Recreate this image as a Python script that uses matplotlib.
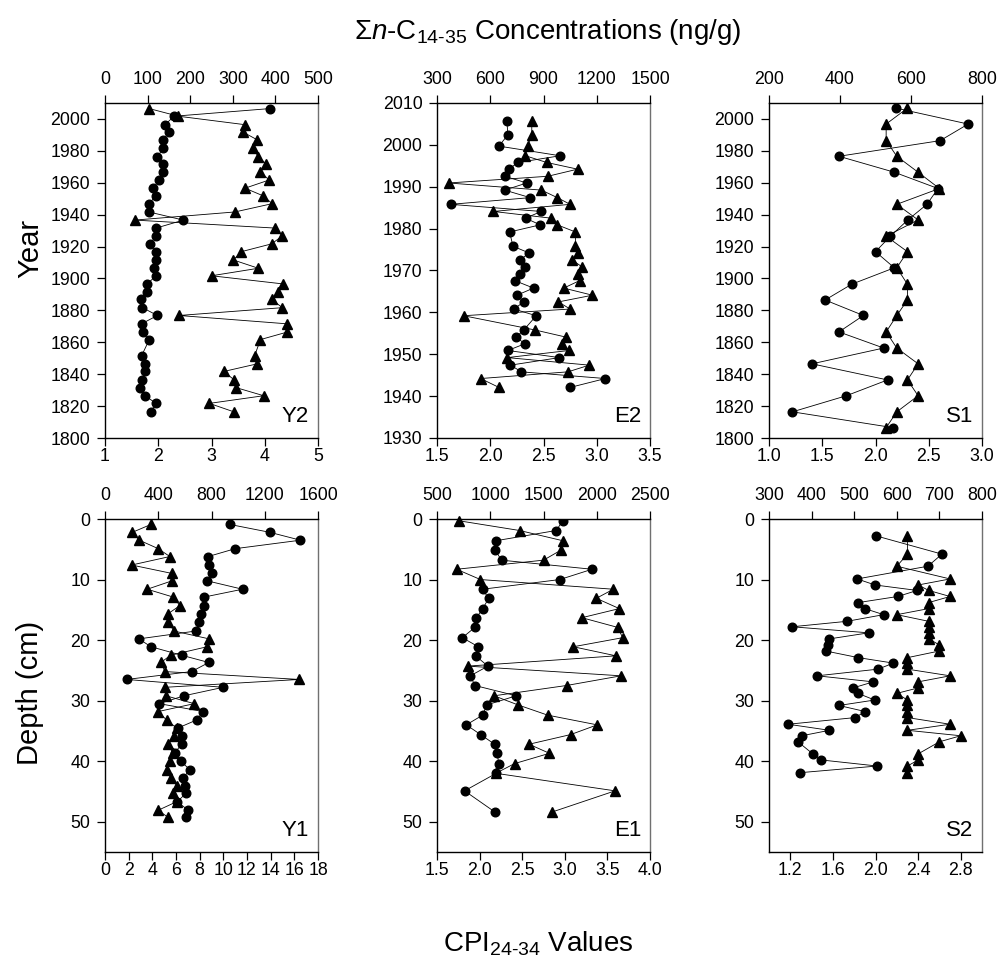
import matplotlib
matplotlib.use('Agg')
import matplotlib.pyplot as plt

plt.rcParams['font.family'] = ['Liberation Sans', 'DejaVu Sans']
plt.rcParams['mathtext.fontset'] = 'custom'
plt.rcParams['mathtext.rm'] = 'Liberation Sans'
plt.rcParams['mathtext.it'] = 'Liberation Sans:italic'
plt.rcParams['mathtext.bf'] = 'Liberation Sans:bold'

# ---------------- Data ----------------
# Y2 (year) : circles = concentration (top axis), triangles = CPI (bottom axis)
Y2_year = [2006.5, 2001.7, 1996.4, 1991.8, 1986.9, 1981.7, 1976.4, 1971.6, 1967.0, 1961.7,
           1956.6, 1951.8, 1946.9, 1941.7, 1936.6, 1931.6, 1926.7, 1921.7, 1916.8, 1911.6,
           1906.4, 1901.7, 1896.6, 1891.8, 1886.9, 1881.7, 1876.8, 1871.6, 1866.3, 1861.7,
           1851.6, 1846.5, 1841.7, 1836.6, 1831.6, 1826.5, 1821.7, 1816.4]
Y2_conc = [387, 162, 141, 150, 137, 137, 123, 135, 135, 127,
           113, 120, 103, 103, 184, 120, 120, 106, 120, 120,
           115, 120, 99, 98, 84, 88, 123, 86, 90, 104,
           86, 94, 94, 86, 82, 94, 120, 107]
Y2_cpi = [1.83, 2.38, 3.63, 3.59, 3.86, 3.77, 3.88, 4.03, 3.92, 4.08,
          3.63, 3.97, 4.14, 3.44, 1.56, 4.19, 4.33, 4.13, 3.56, 3.41,
          3.88, 3.00, 4.34, 4.25, 4.13, 4.33, 2.39, 4.41, 4.41, 3.92,
          3.81, 3.86, 3.23, 3.42, 3.46, 3.98, 2.96, 3.42]

E2_year = [2005.8, 2002.4, 1999.7, 1997.4, 1995.8, 1994.2, 1992.5, 1990.9, 1989.2, 1987.4,
           1985.8, 1984.1, 1982.5, 1980.9, 1979.2, 1975.8, 1974.2, 1972.5, 1970.9, 1969.2,
           1967.6, 1965.8, 1964.1, 1962.5, 1960.8, 1959.2, 1955.8, 1954.1, 1952.5, 1950.9,
           1949.2, 1947.4, 1945.8, 1944.2, 1942.1]
E2_conc = [694, 699, 649, 994, 756, 705, 681, 806, 681, 825,
           377, 887, 799, 881, 709, 728, 818, 769, 793, 769,
           737, 844, 750, 789, 733, 859, 789, 746, 795, 699,
           990, 714, 776, 1249, 1052]
E2_cpi = [2.39, 2.39, 2.35, 2.33, 2.53, 2.82, 2.54, 1.61, 2.48, 2.63,
          2.75, 2.03, 2.57, 2.63, 2.80, 2.80, 2.82, 2.77, 2.86, 2.82,
          2.84, 2.69, 2.96, 2.64, 2.75, 1.75, 2.42, 2.71, 2.67, 2.74,
          2.16, 2.93, 2.73, 1.91, 2.08]

S1_year = [2006.8, 1996.8, 1986.4, 1976.6, 1966.6, 1956.4, 1946.5, 1936.7, 1926.5, 1916.8,
           1906.7, 1896.4, 1886.5, 1876.8, 1866.5, 1856.4, 1846.5, 1836.4, 1826.5, 1816.4,
           1806.5]
S1_conc = [558, 761, 682, 397, 553, 676, 645, 591, 542, 500,
           553, 433, 358, 466, 397, 523, 321, 534, 418, 266,
           549]
S1_cpi = [2.3, 2.1, 2.1, 2.2, 2.4, 2.6, 2.2, 2.4, 2.1, 2.3,
          2.2, 2.3, 2.3, 2.2, 2.1, 2.2, 2.4, 2.3, 2.4, 2.2,
          2.1]

Y1_depth = [0.9, 2.2, 3.5, 4.9, 6.2, 7.6, 9.0, 10.2, 11.6, 12.9,
            14.3, 15.7, 17.0, 18.5, 19.8, 21.1, 22.5, 23.7, 25.2, 26.5,
            27.8, 29.2, 30.5, 31.8, 33.2, 34.5, 35.9, 37.2, 38.6, 40.0,
            41.4, 42.7, 44.1, 45.3, 46.7, 48.1, 49.3]
Y1_conc = [938, 1238, 1468, 978, 775, 780, 805, 765, 1033, 743,
           740, 718, 705, 683, 255, 345, 575, 780, 650, 163,
           888, 593, 408, 738, 688, 550, 575, 575, 525, 568,
           638, 588, 600, 608, 543, 625, 608]
Y1_cpi = [3.88, 2.31, 2.90, 4.50, 5.48, 2.25, 5.68, 5.68, 3.57, 5.77,
          6.33, 5.29, 5.34, 5.82, 8.80, 8.63, 5.54, 4.73, 5.06, 16.40,
          5.06, 5.15, 7.54, 4.50, 5.20, 6.05, 5.82, 5.34, 5.71, 5.48,
          5.20, 5.54, 6.10, 5.77, 6.05, 4.50, 5.34]

E1_depth = [0.3, 1.9, 3.6, 5.1, 6.8, 8.3, 10.0, 11.6, 13.1, 14.8,
            16.3, 17.9, 19.6, 21.1, 22.6, 24.3, 25.9, 27.5, 29.2, 30.7,
            32.4, 34.0, 35.6, 37.2, 38.7, 40.4, 42.0, 44.9, 48.4]
E1_conc = [1681, 1619, 1050, 1044, 1106, 1956, 1653, 928, 984, 931,
           869, 856, 738, 888, 863, 978, 813, 856, 1244, 969,
           928, 775, 909, 1041, 1063, 1081, 1056, 759, 1044]
E1_cpi = [1.76, 2.47, 2.98, 2.96, 2.75, 1.73, 2.01, 3.57, 3.37, 3.64,
          3.20, 3.62, 3.68, 3.10, 3.60, 1.86, 3.66, 3.02, 2.17, 2.45,
          2.80, 3.38, 3.07, 2.58, 2.82, 2.41, 2.19, 3.59, 2.85]

S2_depth = [2.8, 5.8, 7.8, 9.9, 10.9, 11.8, 12.8, 13.8, 14.8, 15.8,
            16.9, 17.8, 18.8, 19.8, 20.8, 21.8, 22.9, 23.8, 24.8, 25.9,
            26.9, 27.9, 28.8, 29.9, 30.8, 31.8, 32.8, 33.9, 34.9, 35.8,
            36.8, 38.8, 39.8, 40.8, 41.9]
S2_conc = [552, 706, 673, 507, 549, 648, 602, 510, 525, 569,
           483, 354, 534, 442, 438, 433, 510, 592, 556, 413,
           545, 497, 509, 548, 464, 526, 502, 345, 442, 377,
           368, 403, 423, 554, 373]
S2_cpi = [2.3, 2.3, 2.2, 2.7, 2.4, 2.5, 2.7, 2.5, 2.5, 2.2,
          2.5, 2.5, 2.5, 2.5, 2.6, 2.6, 2.3, 2.3, 2.3, 2.7,
          2.4, 2.4, 2.2, 2.3, 2.3, 2.3, 2.3, 2.7, 2.3, 2.8,
          2.6, 2.4, 2.4, 2.3, 2.3]

# axis settings
Y2_conc_ticks = [0, 100, 200, 300, 400, 500]
Y2_cpi_ticks = [1, 2, 3, 4, 5]
E2_conc_ticks = [300, 600, 900, 1200, 1500]
E2_cpi_ticks = [1.5, 2.0, 2.5, 3.0, 3.5]
S1_conc_ticks = [200, 400, 600, 800]
S1_cpi_ticks = [1.0, 1.5, 2.0, 2.5, 3.0]
Y1_conc_ticks = [0, 400, 800, 1200, 1600]
Y1_cpi_ticks = [0, 2, 4, 6, 8, 10, 12, 14, 16, 18]
E1_conc_ticks = [500, 1000, 1500, 2000, 2500]
E1_cpi_ticks = [1.5, 2.0, 2.5, 3.0, 3.5, 4.0]
S2_conc_ticks = [300, 400, 500, 600, 700, 800]
S2_cpi_ticks = [1.2, 1.6, 2.0, 2.4, 2.8]

year_ticks_long = [1800, 1820, 1840, 1860, 1880, 1900, 1920, 1940, 1960, 1980, 2000]
year_ticks_E2 = [1930, 1940, 1950, 1960, 1970, 1980, 1990, 2000, 2010]
depth_ticks = [0, 10, 20, 30, 40, 50]

W, H = 1000, 960
fig = plt.figure(figsize=(W / 100, H / 100), dpi=100)

TICK_FS = 12.8


def fmt_tick(v, decimals):
    return f"{v:.{decimals}f}"


def panel(left_px, top_px, bot_px, yvals, conc, cpi, conc_lim, conc_ticks,
          cpi_lim, cpi_ticks, cpi_dec, ylim, yticks, label):
    rect = [left_px / W, 1 - bot_px / H, 213 / W, (bot_px - top_px) / H]
    ax = fig.add_axes(rect)
    ax.set_ylim(*ylim)
    ax.set_yticks(yticks)
    ax.set_xlim(*cpi_lim)
    ax.set_xticks(cpi_ticks)
    ax.set_xticklabels([fmt_tick(v, cpi_dec) for v in cpi_ticks])
    ax.plot(cpi, yvals, '-', color='black', lw=0.6, zorder=2)
    ax.plot(cpi, yvals, '^', color='black', ms=7, mec='black', zorder=3,
            clip_on=False)
    ax.tick_params(axis='x', direction='out', length=5.5, width=0.9,
                   labelsize=TICK_FS, pad=1.5, top=False, bottom=True)
    ax.tick_params(axis='y', direction='out', length=5.5, width=0.9,
                   labelsize=TICK_FS, pad=5, left=True, right=False)
    for s in ['left', 'bottom']:
        ax.spines[s].set_linewidth(1.0)
        ax.spines[s].set_color('black')
    ax.spines['right'].set_color('#707070')
    ax.spines['right'].set_linewidth(1.0)
    ax.spines['top'].set_visible(False)

    ax2 = ax.twiny()
    ax2.set_xlim(*conc_lim)
    ax2.set_xticks(conc_ticks)
    ax2.plot(conc, yvals, '-', color='black', lw=0.6, zorder=2)
    ax2.plot(conc, yvals, 'o', color='black', ms=6.2, mec='black', zorder=3)
    ax2.tick_params(axis='x', direction='out', length=5.5, width=0.9,
                    labelsize=TICK_FS, pad=5, top=True, bottom=False)
    for s in ['left', 'right', 'bottom']:
        ax2.spines[s].set_visible(False)
    ax2.spines['top'].set_linewidth(1.0)
    ax2.spines['top'].set_color('black')
    ax2.text(1 - 9 / 213, 16 / (bot_px - top_px), label, transform=ax2.transAxes,
             ha='right', va='baseline', fontsize=16)
    return ax, ax2


lefts = [105, 437, 769]
TOP1, BOT1 = 103, 438
TOP2, BOT2 = 519, 852

panel(lefts[0], TOP1, BOT1, Y2_year, Y2_conc, Y2_cpi, (0, 500), Y2_conc_ticks,
      (1, 5), Y2_cpi_ticks, 0, (1800, 2010), year_ticks_long, 'Y2')
panel(lefts[1], TOP1, BOT1, E2_year, E2_conc, E2_cpi, (300, 1500), E2_conc_ticks,
      (1.5, 3.5), E2_cpi_ticks, 1, (1930, 2010), year_ticks_E2, 'E2')
panel(lefts[2], TOP1, BOT1, S1_year, S1_conc, S1_cpi, (200, 800), S1_conc_ticks,
      (1.0, 3.0), S1_cpi_ticks, 1, (1800, 2010), year_ticks_long, 'S1')

panel(lefts[0], TOP2, BOT2, Y1_depth, Y1_conc, Y1_cpi, (0, 1600), Y1_conc_ticks,
      (0, 18), Y1_cpi_ticks, 0, (55, 0), depth_ticks, 'Y1')
panel(lefts[1], TOP2, BOT2, E1_depth, E1_conc, E1_cpi, (500, 2500), E1_conc_ticks,
      (1.5, 4.0), E1_cpi_ticks, 1, (55, 0), depth_ticks, 'E1')
panel(lefts[2], TOP2, BOT2, S2_depth, S2_conc, S2_cpi, (300, 800), S2_conc_ticks,
      (1.0, 3.0), S2_cpi_ticks, 1, (55, 0), depth_ticks, 'S2')

fig.text(548 / W, 1 - 32 / H,
         r'$\Sigma\mathit{n}$-C$_{14\text{-}35}$ Concentrations (ng/g)',
         ha='center', va='center', fontsize=20)
fig.text(538 / W, 1 - 944 / H, r'CPI$_{24\text{-}34}$ Values',
         ha='center', va='center', fontsize=20)
fig.text(30 / W, 1 - 248 / H, 'Year', rotation=90, ha='center', va='center',
         fontsize=21)
fig.text(30 / W, 1 - 693 / H, 'Depth (cm)', rotation=90, ha='center',
         va='center', fontsize=21)

fig.savefig('out.png', dpi=100)
